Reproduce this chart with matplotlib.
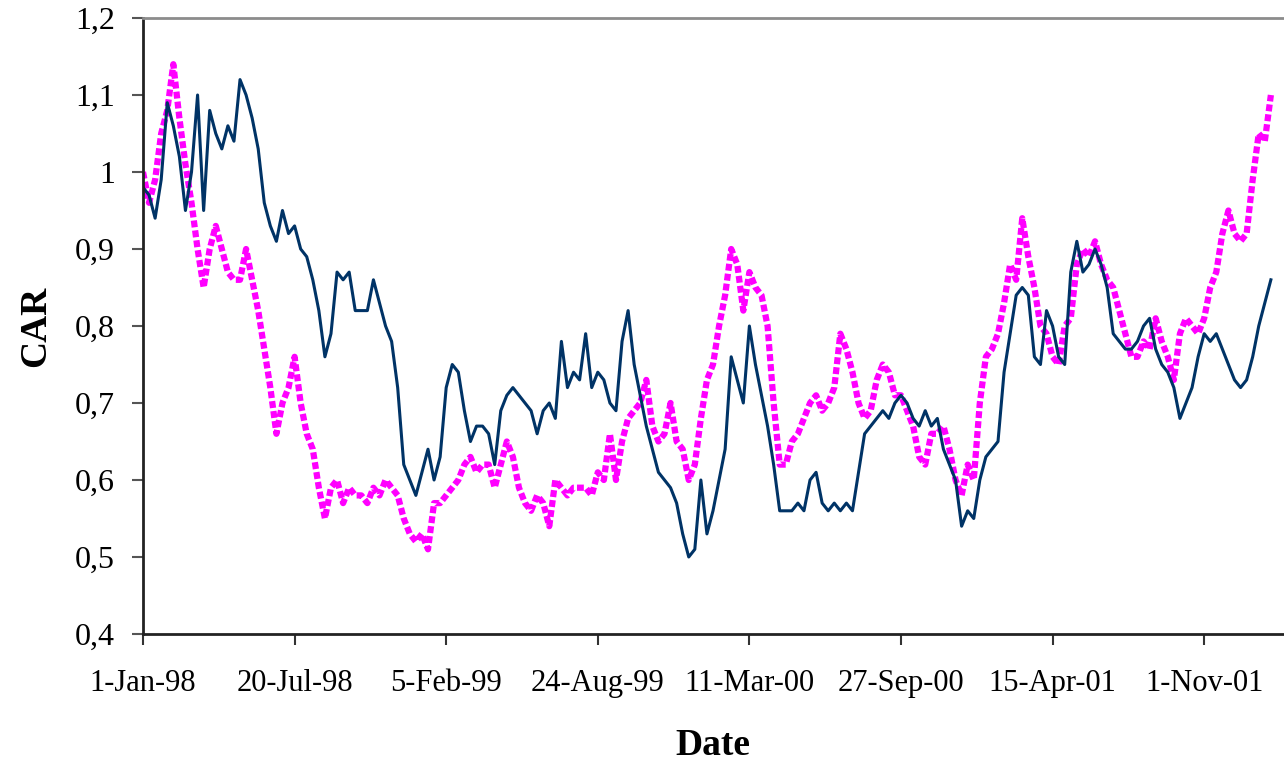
import numpy as np
import pandas as pd
import matplotlib
matplotlib.use("Agg")
import matplotlib.pyplot as plt

# ---- data (sampled every 8 days from 1-Jan-98) ----
start_date = "1998-01-01"
step_days = 8

car_navy = [
    0.98, 0.97, 0.94, 0.99, 1.09, 1.06, 1.02, 0.95, 1.00, 1.10,
    0.95, 1.08, 1.05, 1.03, 1.06, 1.04, 1.12, 1.10, 1.07, 1.03,
    0.96, 0.93, 0.91, 0.95, 0.92, 0.93, 0.90, 0.89, 0.86, 0.82,
    0.76, 0.79, 0.87, 0.86, 0.87, 0.82, 0.82, 0.82, 0.86, 0.83,
    0.80, 0.78, 0.72, 0.62, 0.60, 0.58, 0.61, 0.64, 0.60, 0.63,
    0.72, 0.75, 0.74, 0.69, 0.65, 0.67, 0.67, 0.66, 0.62, 0.69,
    0.71, 0.72, 0.71, 0.70, 0.69, 0.66, 0.69, 0.70, 0.68, 0.78,
    0.72, 0.74, 0.73, 0.79, 0.72, 0.74, 0.73, 0.70, 0.69, 0.78,
    0.82, 0.75, 0.71, 0.67, 0.64, 0.61, 0.60, 0.59, 0.57, 0.53,
    0.50, 0.51, 0.60, 0.53, 0.56, 0.60, 0.64, 0.76, 0.73, 0.70,
    0.80, 0.75, 0.71, 0.67, 0.62, 0.56, 0.56, 0.56, 0.57, 0.56,
    0.60, 0.61, 0.57, 0.56, 0.57, 0.56, 0.57, 0.56, 0.61, 0.66,
    0.67, 0.68, 0.69, 0.68, 0.70, 0.71, 0.70, 0.68, 0.67, 0.69,
    0.67, 0.68, 0.64, 0.62, 0.60, 0.54, 0.56, 0.55, 0.60, 0.63,
    0.64, 0.65, 0.74, 0.79, 0.84, 0.85, 0.84, 0.76, 0.75, 0.82,
    0.80, 0.76, 0.75, 0.87, 0.91, 0.87, 0.88, 0.90, 0.88, 0.85,
    0.79, 0.78, 0.77, 0.77, 0.78, 0.80, 0.81, 0.77, 0.75, 0.74,
    0.72, 0.68, 0.70, 0.72, 0.76, 0.79, 0.78, 0.79, 0.77, 0.75,
    0.73, 0.72, 0.73, 0.76, 0.80, 0.83, 0.86,
]

car_magenta = [
    1.00, 0.96, 0.99, 1.05, 1.08, 1.14, 1.07, 1.01, 0.96, 0.90,
    0.85, 0.90, 0.93, 0.90, 0.87, 0.86, 0.86, 0.90, 0.86, 0.82,
    0.77, 0.72, 0.66, 0.70, 0.72, 0.76, 0.70, 0.66, 0.64, 0.59,
    0.55, 0.59, 0.60, 0.57, 0.59, 0.58, 0.58, 0.57, 0.59, 0.58,
    0.60, 0.59, 0.58, 0.55, 0.53, 0.52, 0.53, 0.51, 0.57, 0.57,
    0.58, 0.59, 0.60, 0.62, 0.63, 0.61, 0.62, 0.62, 0.59, 0.62,
    0.65, 0.63, 0.59, 0.57, 0.56, 0.58, 0.57, 0.54, 0.60, 0.59,
    0.58, 0.59, 0.59, 0.59, 0.58, 0.61, 0.60, 0.66, 0.60, 0.65,
    0.68, 0.69, 0.70, 0.73, 0.67, 0.65, 0.66, 0.70, 0.65, 0.64,
    0.60, 0.62, 0.68, 0.73, 0.75, 0.80, 0.84, 0.90, 0.88, 0.82,
    0.87, 0.85, 0.84, 0.80, 0.70, 0.62, 0.62, 0.65, 0.66, 0.68,
    0.70, 0.71, 0.69, 0.70, 0.72, 0.79, 0.77, 0.74, 0.70, 0.68,
    0.69, 0.73, 0.75, 0.74, 0.71, 0.71, 0.69, 0.67, 0.63, 0.62,
    0.66, 0.66, 0.67, 0.64, 0.60, 0.58, 0.62, 0.60, 0.70, 0.76,
    0.77, 0.79, 0.83, 0.88, 0.86, 0.94, 0.89, 0.85, 0.80, 0.79,
    0.76, 0.75, 0.80, 0.81, 0.88, 0.90, 0.89, 0.91, 0.88, 0.86,
    0.85, 0.82, 0.79, 0.76, 0.76, 0.78, 0.77, 0.81, 0.78, 0.76,
    0.73, 0.79, 0.81, 0.80, 0.79, 0.81, 0.85, 0.87, 0.92, 0.95,
    0.92, 0.91, 0.92, 0.99, 1.05, 1.04, 1.10,
]

tick_labels = ["1-Jan-98", "20-Jul-98", "5-Feb-99", "24-Aug-99",
               "11-Mar-00", "27-Sep-00", "15-Apr-01", "1-Nov-01"]
y_ticks = [0.4, 0.5, 0.6, 0.7, 0.8, 0.9, 1.0, 1.1, 1.2]
y_tick_labels = ["0,4", "0,5", "0,6", "0,7", "0,8", "0,9", "1", "1,1", "1,2"]

# ---- plotting ----
plt.rcParams["font.family"] = ["Liberation Serif", "DejaVu Serif"]

dates = pd.date_range(start_date, periods=len(car_navy), freq=f"{step_days}D")
tick_dates = pd.to_datetime(tick_labels, format="%d-%b-%y")

fig = plt.figure(figsize=(12.84, 7.65), dpi=100)
ax = fig.add_axes([143 / 1284, 131 / 765, 1140 / 1284, 616 / 765])

ax.plot(dates, car_magenta, color="#FF00FF", linewidth=4.5,
        linestyle=(0, (1.1, 0.5)), solid_capstyle="butt", dash_capstyle="butt")
ax.plot(dates, car_navy, color="#003366", linewidth=2.2)

ax.set_ylim(0.4, 1.2)
ax.set_xlim(pd.Timestamp(start_date), pd.Timestamp(start_date) + pd.Timedelta(days=1504))
ax.set_yticks(y_ticks)
ax.set_yticklabels(y_tick_labels)
ax.set_xticks(tick_dates)
ax.set_xticklabels(tick_labels)

ax.tick_params(axis="y", labelsize=23, length=8, width=1.5, direction="out",
               pad=12, color="#555555")
ax.tick_params(axis="x", labelsize=22, length=8, width=1.5, direction="out",
               pad=17, color="#333333")

for side in ["left", "bottom"]:
    ax.spines[side].set_linewidth(2)
    ax.spines[side].set_color("#222222")
ax.spines["top"].set_linewidth(2)
ax.spines["top"].set_color("#8c8c8c")
ax.spines["right"].set_visible(False)

ax.set_ylabel("CAR", fontsize=27, fontweight="bold", labelpad=16)
ax.set_xlabel("Date", fontsize=27, fontweight="bold", labelpad=22)

fig.savefig("out.png", dpi=100)
